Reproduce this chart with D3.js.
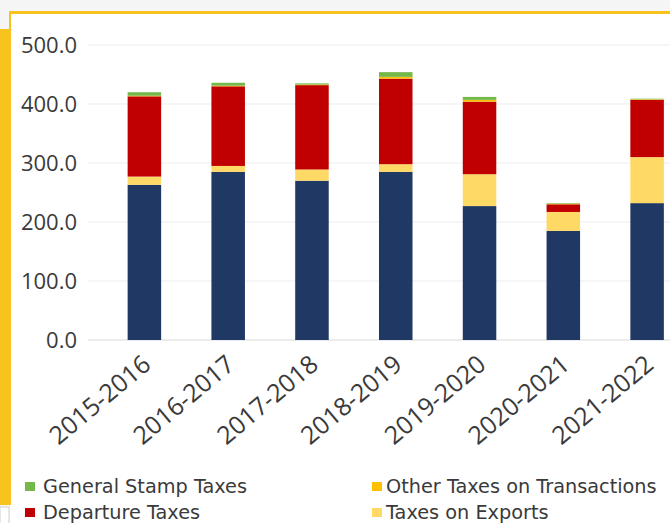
<!DOCTYPE html>
<html>
<head>
<meta charset="utf-8">
<script src="https://cdn.jsdelivr.net/npm/d3@7"></script>
<style>
  body { margin: 0; background: #f5f5f5; overflow: hidden; }
  svg { display: block; }
</style>
</head>
<body>
<div class="chart"></div>
<script>
// fiscal years on the x axis
var years = ["2015-2016", "2016-2017", "2017-2018", "2018-2019", "2019-2020", "2020-2021", "2021-2022"];

// series values, bottom of the stack first
var importTaxes = [263, 285, 270, 285, 227, 185, 232];
var exportTaxes = [14, 10, 19, 13, 54, 32, 78];
var departureTaxes = [136, 135, 143, 145, 123, 13, 97];
var otherTransactionTaxes = [1, 1, 1, 3, 3, 1, 1];
var stampTaxes = [6, 5, 2, 8, 5, 1, 1];

var yTicks = [0, 100, 200, 300, 400, 500];

var seriesNames = ["Import Taxes", "Taxes on Exports", "Departure Taxes", "Other Taxes on Transactions", "General Stamp Taxes"];
var seriesColors = ["#1f3864", "#ffd966", "#c00000", "#ffc000", "#74b84a"];
var seriesValues = [importTaxes, exportTaxes, departureTaxes, otherTransactionTaxes, stampTaxes];

// legend entries that show in the picture (row by row)
var legendItems = ["General Stamp Taxes", "Other Taxes on Transactions", "Departure Taxes", "Taxes on Exports"];

var svgWidth = 670;
var svgHeight = 523;
var font = "Open Sans, sans-serif";
var textColor = "#3a3a3a";

var svg = d3.select(".chart")
  .append("svg")
  .attr("width", svgWidth)
  .attr("height", svgHeight);

// frame: white panel with yellow border
svg.append("rect")
  .attr("x", 10).attr("y", 12)
  .attr("width", svgWidth).attr("height", svgHeight)
  .attr("fill", "#ffffff");
svg.append("rect")
  .attr("x", 9).attr("y", 11)
  .attr("width", 700).attr("height", 3)
  .attr("fill", "#f9c31f");
svg.append("rect")
  .attr("x", 9).attr("y", 11)
  .attr("width", 2).attr("height", 30)
  .attr("fill", "#f9c31f");
svg.append("rect")
  .attr("x", 0).attr("y", 29)
  .attr("width", 11).attr("height", 476)
  .attr("fill", "#f9c31f");
svg.append("rect")
  .attr("x", 0).attr("y", 507)
  .attr("width", 9).attr("height", 20)
  .attr("fill", "#ffffff")
  .attr("stroke", "#d0d0d0");

// table for the stack layout
var table = years.map(function(y, i) {
  var row = { year: y };
  seriesNames.forEach(function(name, j) { row[name] = seriesValues[j][i]; });
  return row;
});

var stacked = d3.stack().keys(seriesNames)(table);

var x = d3.scaleBand()
  .domain(years)
  .range([102.5, 689])
  .paddingInner(0.6)
  .paddingOuter(0.3);

var y = d3.scaleLinear()
  .domain([0, 500])
  .range([340, 45]);

// gridlines
svg.append("g")
  .selectAll("line")
  .data(yTicks)
  .enter()
  .append("line")
  .attr("x1", 88)
  .attr("x2", svgWidth)
  .attr("y1", d => y(d))
  .attr("y2", d => y(d))
  .attr("stroke", d => d === 0 ? "#d9d9d9" : "#ededed")
  .attr("stroke-width", 1);

// y axis labels
var yAxis = d3.axisLeft(y)
  .tickValues(yTicks)
  .tickFormat(d3.format(".1f"))
  .tickSize(0)
  .tickPadding(0);

var yAxisG = svg.append("g")
  .attr("transform", "translate(77,0)")
  .call(yAxis);
yAxisG.select(".domain").remove();
yAxisG.selectAll("text")
  .attr("font-family", font)
  .attr("font-size", "22px")
  .attr("fill", textColor);

// bars
svg.append("g")
  .selectAll("g")
  .data(stacked)
  .enter()
  .append("g")
  .attr("fill", (d, i) => seriesColors[i])
  .selectAll("rect")
  .data(d => d)
  .enter()
  .append("rect")
  .attr("x", d => x(d.data.year))
  .attr("width", x.bandwidth())
  .attr("y", d => y(d[1]))
  .attr("height", d => y(d[0]) - y(d[1]));

// x axis labels
var xAxis = d3.axisBottom(x).tickSize(0).tickPadding(0);
var xAxisG = svg.append("g")
  .attr("transform", "translate(0,340)")
  .call(xAxis);
xAxisG.select(".domain").remove();
xAxisG.selectAll("text")
  .attr("font-family", font)
  .attr("font-size", "25px")
  .attr("fill", textColor)
  .attr("text-anchor", "end")
  .attr("dy", "0")
  .attr("transform", "translate(8,27) rotate(-40)");

// legend
var legend = svg.append("g")
  .selectAll("g")
  .data(legendItems)
  .enter()
  .append("g")
  .attr("transform", (d, i) => `translate(${i % 2 === 0 ? 25 : 372}, ${i < 2 ? 486 : 512})`);

legend.append("rect")
  .attr("x", 0)
  .attr("y", -4)
  .attr("width", 10)
  .attr("height", 9)
  .attr("fill", d => seriesColors[seriesNames.indexOf(d)]);

legend.append("text")
  .attr("x", d => legendItems.indexOf(d) % 2 === 0 ? 18 : 14)
  .attr("y", 0)
  .attr("dy", "0.35em")
  .attr("font-family", "DejaVu Sans, sans-serif")
  .attr("font-size", "19.3px")
  .attr("fill", textColor)
  .text(d => d);
</script>
</body>
</html>
